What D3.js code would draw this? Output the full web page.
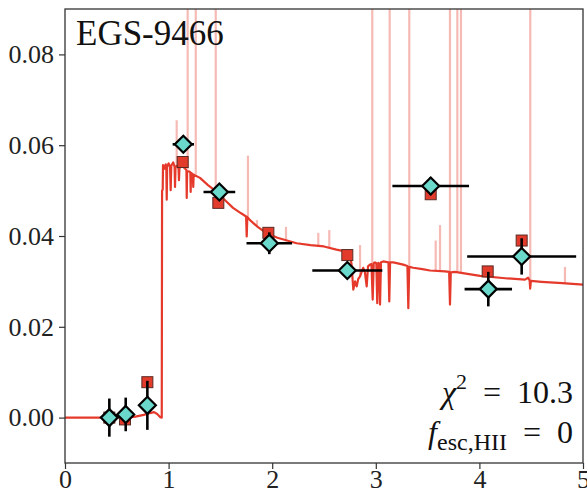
<!DOCTYPE html>
<html>
<head>
<meta charset="utf-8">
<script src="https://cdn.jsdelivr.net/npm/d3@7"></script>
<style>
  body { margin: 0; background: #fff; }
  svg { display: block; }
  .tick text { font-family: "Liberation Serif", serif; font-size: 26px; fill: #222; }
</style>
</head>
<body>
<script>
// model spectrum (continuum + absorption)
var specX = [0.00, 0.30, 0.60, 0.68, 0.76, 0.82, 0.86, 0.89, 0.92, 0.934, 0.937, 0.943, 0.946,
  0.958, 0.972, 0.978, 0.982, 0.986, 1.000, 1.014, 1.020, 1.026, 1.045, 1.058, 1.062, 1.067,
  1.085, 1.096, 1.100, 1.105, 1.125, 1.142, 1.165, 1.172, 1.175, 1.179, 1.200, 1.210, 1.213,
  1.217, 1.234, 1.238, 1.242, 1.303, 1.38, 1.464, 1.54, 1.622, 1.70, 1.748, 1.754, 1.760,
  1.786, 1.86, 1.947, 2.05, 2.236, 2.37, 2.50, 2.62, 2.703, 2.74, 2.765, 2.783, 2.800, 2.816,
  2.830, 2.848, 2.865, 2.879, 2.895, 2.912, 2.925, 2.944, 2.958, 2.970, 2.980, 2.992, 3.005,
  3.014, 3.025, 3.035, 3.041, 3.050, 3.072, 3.122, 3.130, 3.138, 3.169, 3.265, 3.305, 3.314,
  3.323, 3.362, 3.45, 3.523, 3.668, 3.708, 3.716, 3.724, 3.764, 3.90, 4.006, 4.25, 4.44, 4.47,
  4.485, 4.490, 4.497, 4.60, 4.80, 5.00];
var specY = [0.0, 0.0, 0.0, 0.0002, 0.0006, 0.0010, 0.0012, 0.0008, 0.0001, 0.0, 0.050, 0.0502, 0.0556,
  0.0548, 0.0558, 0.0550, 0.0480, 0.0552, 0.0560, 0.0553, 0.0501, 0.0555, 0.0562, 0.0552, 0.0508, 0.0553,
  0.0555, 0.0548, 0.0523, 0.0550, 0.0553, 0.0552, 0.0547, 0.0545, 0.0484, 0.0543, 0.0542, 0.0540, 0.0497,
  0.0539, 0.0536, 0.0508, 0.0535, 0.0528, 0.0512, 0.0497, 0.0480, 0.0462, 0.0450, 0.0443, 0.0399, 0.0442,
  0.0435, 0.0420, 0.0406, 0.0396, 0.0384, 0.0380, 0.0377, 0.0370, 0.0366, 0.0360, 0.0340, 0.0282, 0.0300, 0.0289,
  0.0305, 0.0311, 0.0322, 0.0330, 0.0320, 0.0289, 0.0333, 0.0337, 0.0338, 0.0260, 0.0340, 0.0342, 0.0340,
  0.0252, 0.0341, 0.0338, 0.0249, 0.0342, 0.0344, 0.0342, 0.0256, 0.0342, 0.0342, 0.0337, 0.0334, 0.0241,
  0.0332, 0.0330, 0.0327, 0.0324, 0.0322, 0.0321, 0.0249, 0.0320, 0.0321, 0.0316, 0.0312, 0.0307, 0.0304, 0.0308,
  0.0302, 0.0284, 0.0301, 0.0299, 0.0296, 0.0293];

// nebular emission lines (wavelength, base, top)
var emX = [1.078, 1.184, 1.262, 1.455, 1.766, 1.853, 2.133, 2.445, 2.551, 2.848, 2.966, 3.134, 3.323,
  3.578, 3.620, 3.716, 3.787, 3.822, 4.491, 4.826];
var emBase = [0.0555, 0.0547, 0.0535, 0.0498, 0.0443, 0.0420, 0.0388, 0.0379, 0.0375, 0.0311, 0.0338,
  0.0342, 0.0332, 0.0323, 0.0323, 0.0321, 0.0320, 0.0319, 0.0303, 0.0295];
var emTop = [0.0655, 0.10, 0.10, 0.10, 0.0577, 0.0435, 0.0420, 0.0407, 0.0413, 0.0380, 0.10, 0.10, 0.10,
  0.0390, 0.0424, 0.10, 0.10, 0.10, 0.10, 0.0332];

// model photometry (squares)
var modX = [0.428, 0.579, 0.795, 1.136, 1.480, 1.963, 2.725, 3.530, 4.080, 4.408];
var modY = [0.0000, -0.0004, 0.0078, 0.0563, 0.0473, 0.0407, 0.0358, 0.0492, 0.0322, 0.0390];

// observed photometry (diamonds)
var obsX = [0.428, 0.586, 0.795, 1.142, 1.490, 1.972, 2.725, 3.530, 4.086, 4.408];
var obsY = [0.0000, 0.0007, 0.0027, 0.0602, 0.0497, 0.0384, 0.0324, 0.0510, 0.0283, 0.0355];
var obsXerr = [0, 0, 0, 0.103, 0.153, 0.22, 0.338, 0.37, 0.229, 0.526];
var obsYerr = [0.0042, 0.0037, 0.0054, 0.001, 0.001, 0.0024, 0.001, 0.002, 0.0038, 0.004];

var xTicks = [0, 1, 2, 3, 4, 5];
var yTicks = [0.00, 0.02, 0.04, 0.06, 0.08];

var W = 587, H = 495;
var margin = {left: 65, right: 583, top: 9, bottom: 463};

var svg = d3.select("body").append("svg")
  .attr("width", W)
  .attr("height", H);

var x = d3.scaleLinear().domain([0, 5]).range([margin.left, margin.right]);
var y = d3.scaleLinear().domain([-0.01, 0.09]).range([margin.bottom, margin.top]);

svg.append("clipPath").attr("id", "clip")
  .append("rect")
  .attr("x", margin.left).attr("y", margin.top)
  .attr("width", margin.right - margin.left).attr("height", margin.bottom - margin.top);

var plot = svg.append("g").attr("clip-path", "url(#clip)");

var red = "#e53a2b";

// emission lines, drawn faint under everything
plot.selectAll(".em")
  .data(emX)
  .enter()
  .append("line")
  .attr("class", "em")
  .attr("x1", function(d) { return x(d); })
  .attr("x2", function(d) { return x(d); })
  .attr("y1", function(d, i) { return y(emBase[i]); })
  .attr("y2", function(d, i) { return y(emTop[i]); })
  .attr("stroke", red)
  .attr("stroke-opacity", 0.35)
  .attr("stroke-width", 2.2);

//spectrum
var spec = specX.map(function(d, i) { return [d, specY[i]]; });
plot.append("path")
  .datum(spec)
  .attr("fill", "none")
  .attr("stroke", red)
  .attr("stroke-width", 2.2)
  .attr("stroke-linejoin", "round")
  .attr("d", d3.line()
    .x(function(d) { return x(d[0]); })
    .y(function(d) { return y(d[1]); }));

// model squares
plot.selectAll(".mod")
  .data(modX)
  .enter()
  .append("rect")
  .attr("class", "mod")
  .attr("x", function(d) { return x(d) - 5.5; })
  .attr("y", function(d, i) { return y(modY[i]) - 5.5; })
  .attr("width", 11)
  .attr("height", 11)
  .attr("fill", "#e23b2b")
  .attr("stroke", "#5a2a24")
  .attr("stroke-width", 1);

// error bars
var eb = plot.selectAll(".eb")
  .data(obsX)
  .enter()
  .append("g")
  .attr("class", "eb");

eb.append("line")
  .attr("x1", function(d, i) { return x(d - obsXerr[i]); })
  .attr("x2", function(d, i) { return x(d + obsXerr[i]); })
  .attr("y1", function(d, i) { return y(obsY[i]); })
  .attr("y2", function(d, i) { return y(obsY[i]); })
  .attr("stroke", "#000")
  .attr("stroke-width", 2.6);

eb.append("line")
  .attr("x1", function(d) { return x(d); })
  .attr("x2", function(d) { return x(d); })
  .attr("y1", function(d, i) { return y(obsY[i] - obsYerr[i]); })
  .attr("y2", function(d, i) { return y(obsY[i] + obsYerr[i]); })
  .attr("stroke", "#000")
  .attr("stroke-width", 2.6);

// diamonds
plot.selectAll(".obs")
  .data(obsX)
  .enter()
  .append("path")
  .attr("class", "obs")
  .attr("transform", function(d, i) { return "translate(" + x(d) + "," + y(obsY[i]) + ")"; })
  .attr("d", "M0,-8.5L8.5,0L0,8.5L-8.5,0Z")
  .attr("fill", "#6bd8cc")
  .attr("stroke", "#000")
  .attr("stroke-width", 2.2);

//axes
var xAxis = d3.axisBottom(x).tickValues(xTicks).tickSize(6).tickPadding(1)
  .tickFormat(d3.format("d"));
var yAxis = d3.axisLeft(y).tickValues(yTicks).tickSize(6).tickPadding(5)
  .tickFormat(d3.format(".2f"));

var gx = svg.append("g")
  .attr("transform", "translate(0," + margin.bottom + ")")
  .call(xAxis);
var gy = svg.append("g")
  .attr("transform", "translate(" + margin.left + ",0)")
  .call(yAxis);

[gx, gy].forEach(function(g) {
  g.select(".domain").remove();
  g.selectAll(".tick line").attr("stroke", "#333").attr("stroke-width", 1.2);
});

// frame
svg.append("rect")
  .attr("x", margin.left).attr("y", margin.top)
  .attr("width", margin.right - margin.left).attr("height", margin.bottom - margin.top)
  .attr("fill", "none")
  .attr("stroke", "#333")
  .attr("stroke-width", 1.3);

// labels
svg.append("text")
  .attr("x", 76)
  .attr("y", 45)
  .attr("font-family", "Liberation Serif, serif")
  .attr("font-size", 35)
  .attr("fill", "#111")
  .text("EGS-9466");

var t1 = svg.append("text")
  .attr("x", 573)
  .attr("y", 403)
  .attr("text-anchor", "end")
  .attr("font-family", "Liberation Serif, serif")
  .attr("font-size", 32)
  .attr("fill", "#111");
t1.append("tspan").attr("font-style", "italic").text("χ");
t1.append("tspan").attr("font-size", 22).attr("dy", -14).text("2");
t1.append("tspan").attr("dy", 14).text("\u2002=\u200210.3");

var t2 = svg.append("text")
  .attr("x", 573)
  .attr("y", 443)
  .attr("text-anchor", "end")
  .attr("font-family", "Liberation Serif, serif")
  .attr("font-size", 32)
  .attr("fill", "#111");
t2.append("tspan").attr("font-style", "italic").text("f");
t2.append("tspan").attr("font-size", 24).attr("dy", 7).text("esc,HII");
t2.append("tspan").attr("dy", -7).text("\u2002=\u20020");
</script>
</body>
</html>
